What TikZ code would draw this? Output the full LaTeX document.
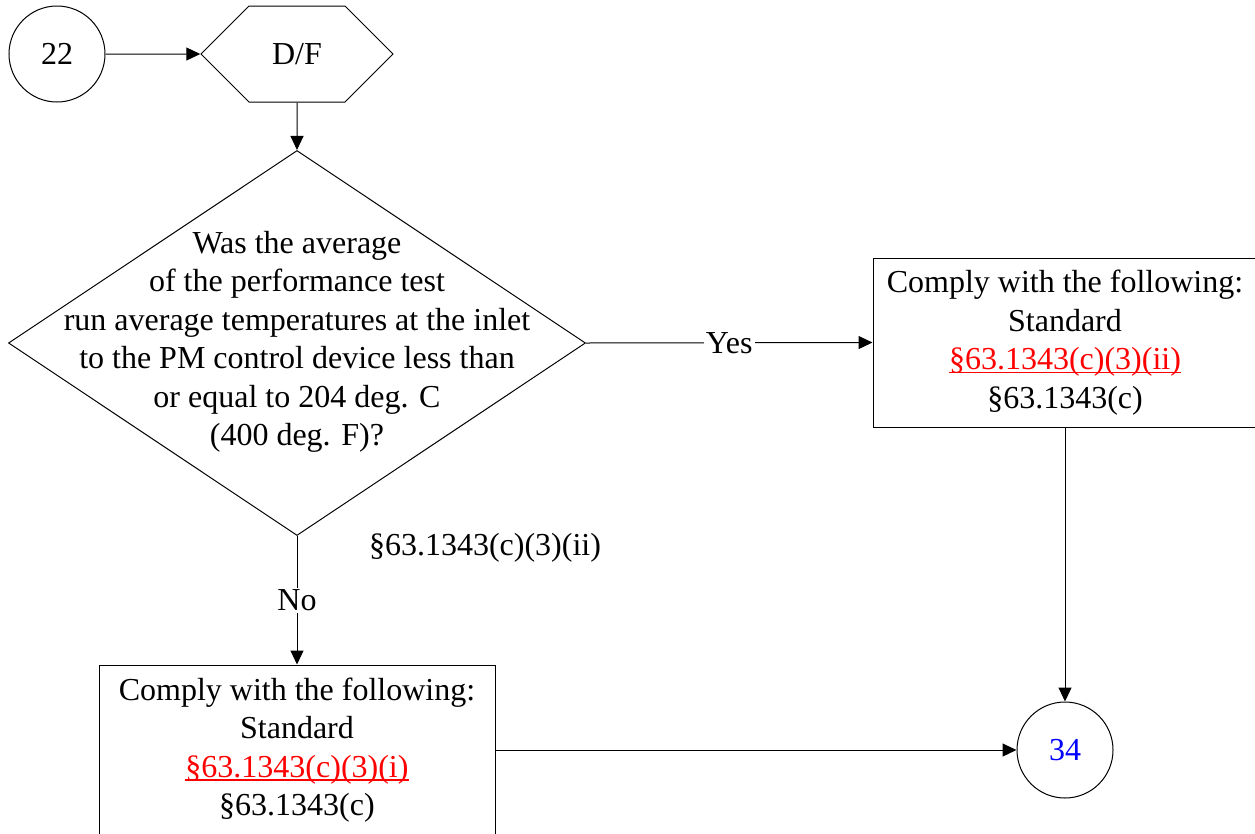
\documentclass[tikz,border=0pt]{standalone}
\usepackage{fontspec}
\setmainfont{Liberation Serif}
\usetikzlibrary{arrows.meta,shapes.geometric,shapes.symbols}
\definecolor{linkred}{HTML}{FF0000}
\definecolor{linkblue}{HTML}{0000FF}
\newcommand\reglink[1]{\textcolor{linkred}{\setbox0\hbox{#1}\rlap{\rule[-3.5pt]{\wd0}{1.6pt}}\box0}}
\tikzset{
  every node/.style={font=\fontsize{32}{38.5}\selectfont, inner sep=0pt},
  conn/.style={line width=1pt, -{Triangle[length=14pt,width=13pt]}},
  onpage/.style={circle, draw, line width=1pt, minimum size=96pt},
  hexbox/.style={signal, signal to=west and east, signal pointer angle=90, draw, line width=1pt, minimum width=192pt, minimum height=96pt},
  decision/.style={diamond, draw, line width=1pt, minimum width=577pt, minimum height=385pt},
  actionbox/.style={rectangle, draw, line width=1pt, align=center},
  edgelabel/.style={fill=white, inner sep=2pt}
}
\begin{document}
\begin{tikzpicture}[x=1pt,y=-1pt]
\useasboundingbox (0,0) rectangle (1255,833);
\clip (0,0) rectangle (1255,833);
\fill[white] (0,0) rectangle (1255,833);

\node[onpage] (c22) at (57,54) {22};
\node[hexbox] (df) at (297,54) {D/F};
\node[decision] (q) at (297,343) {};
\node[align=center] (qtext) at (297,342) {Was the average\\ of the performance test\\ run average temperatures at the inlet\\ to the PM control device less than\\ or equal to 204 deg. C\\ (400 deg. F)?};
\node[actionbox, minimum width=384pt, minimum height=169pt] (rbox) at (1065,342.5) {Comply with the following:\\ Standard\\ \reglink{§63.1343(c)(3)(ii)}\\ §63.1343(c)};
\node[actionbox, minimum width=396pt, minimum height=170pt] (lbox) at (297,750) {Comply with the following:\\ Standard\\ \reglink{§63.1343(c)(3)(i)}\\ §63.1343(c)};
\node[onpage, text=linkblue] (c34) at (1065,750) {34};
\node (ref) at (485,548) {§63.1343(c)(3)(ii)};

\draw[conn] (c22) -- (df);
\draw[conn] (df) -- (q);
\draw[conn] (q.east) -- node[edgelabel] (yes) {Yes} (rbox.west);
\draw[conn] (q.south) -- node[edgelabel] (no) {No} (lbox.north);
\draw[conn] (rbox.south) -- (c34.north);
\draw[conn] (lbox.east) -- (c34.west);
\end{tikzpicture}
\end{document}
